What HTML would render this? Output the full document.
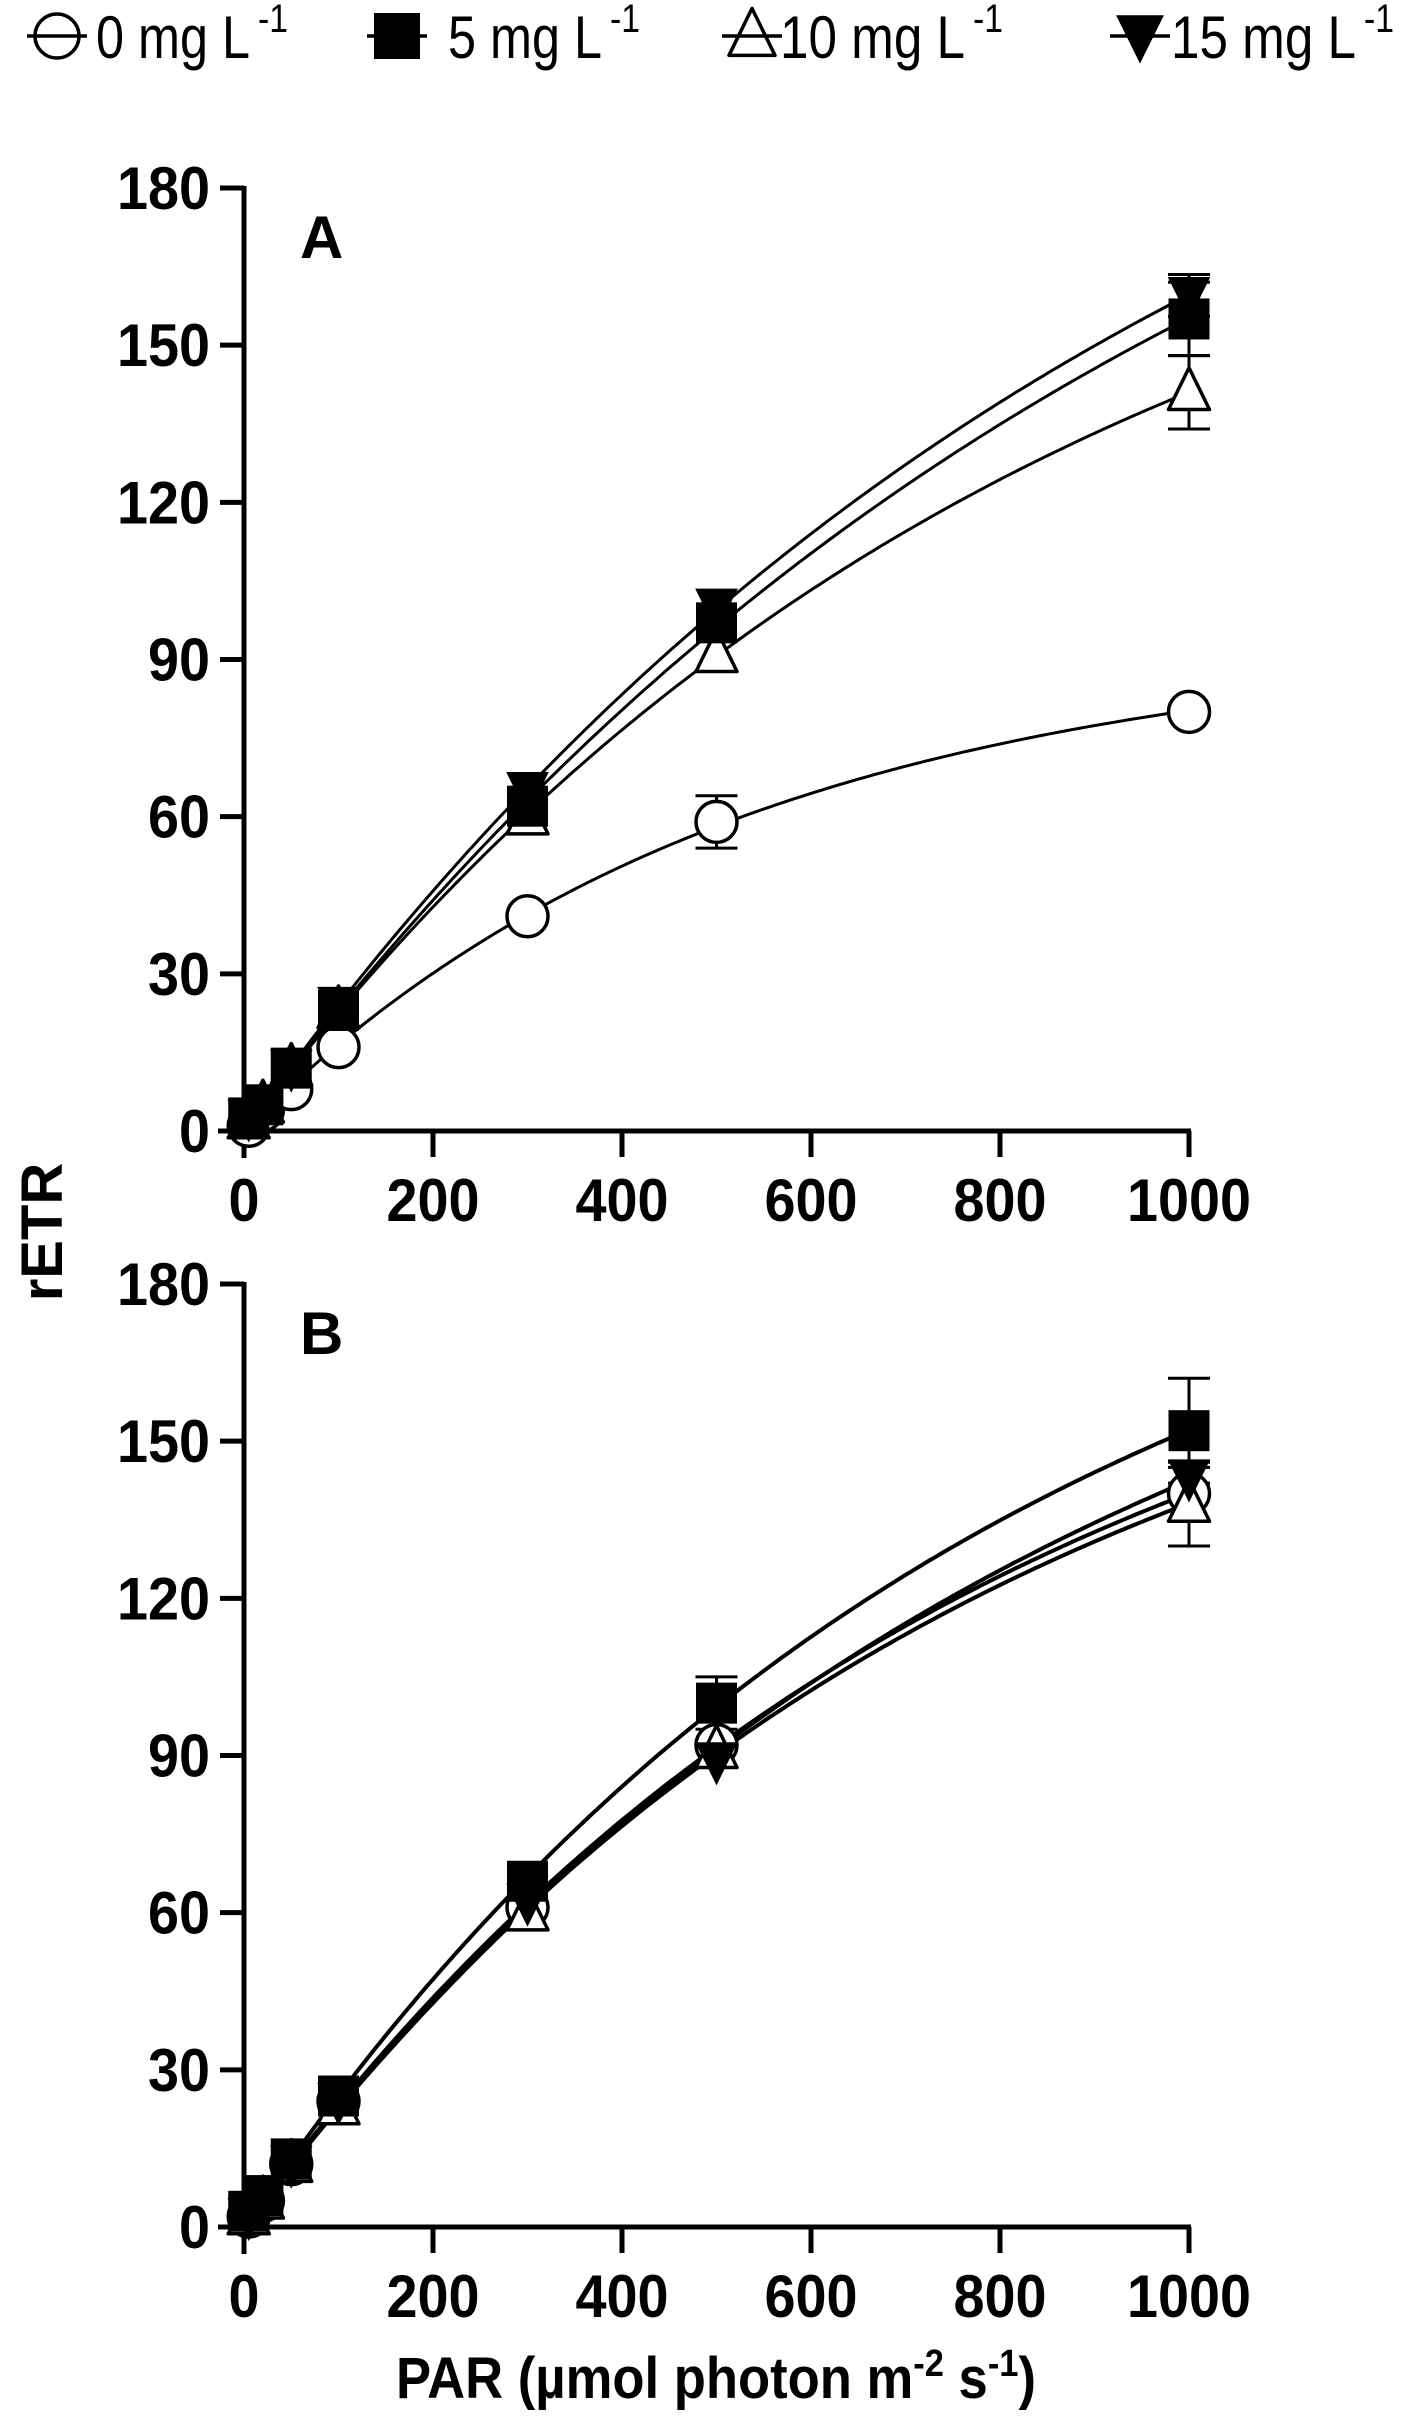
<!DOCTYPE html>
<html><head><meta charset="utf-8"><style>
html,body{margin:0;padding:0;background:#fff;}
svg{display:block;}
text{font-family:"Liberation Sans",sans-serif;}
</style></head><body>
<svg id="chart" width="1421" height="2425" viewBox="0 0 1421 2425" xmlns="http://www.w3.org/2000/svg">
<g id="legend"></g>
<g id="panelA"></g>
<g id="panelB"></g>
<text x="0" y="0" transform="translate(62,1232) rotate(-90)" text-anchor="middle" font-size="58" font-weight="bold">rETR</text>
<text x="716" y="2398" text-anchor="middle" font-size="58" font-weight="bold" textLength="640" lengthAdjust="spacingAndGlyphs">PAR (µmol photon m<tspan dy="-22" font-size="38">-2</tspan><tspan dy="22"> s</tspan><tspan dy="-22" font-size="38">-1</tspan><tspan dy="22">)</tspan></text>
</svg>
<script>
const parX = [5, 20, 50, 100, 300, 500, 1000];
const seriesNames = ["0 mg L", "5 mg L", "10 mg L", "15 mg L"];
const xTicks = [0, 200, 400, 600, 800, 1000];
const yTicks = [0, 30, 60, 90, 120, 150, 180];
// Panel A
const a0 = [1, 4, 8, 16, 41, 59, 80];
const a5 = [2.5, 5, 12, 23, 62, 97, 155];
const a10 = [2, 5, 12, 23, 60, 91, 141];
const a15 = [2.5, 5, 12, 24, 65, 100, 159.5];
const aErr0 = [0, 0, 0, 0, 0, 5, 0];
const aErr5 = [0, 0, 0, 0, 0, 0, 7];
const aErr10 = [0, 0, 0, 0, 0, 0, 7];
const aErr15 = [0, 0, 0, 0, 0, 0, 4];
// Panel B
const b0 = [2, 5, 12, 24, 61, 92, 140];
const b5 = [3, 6, 13, 25, 66, 100, 152];
const b10 = [2, 5, 12, 23, 60, 91, 138];
const b15 = [2, 5, 12, 24, 62, 89, 143];
const bErr0 = [0, 0, 0, 0, 0, 0, 5];
const bErr5 = [0, 0, 0, 0, 0, 5, 10];
const bErr10 = [0, 0, 0, 0, 0, 0, 8];
const bErr15 = [0, 0, 0, 0, 0, 0, 3];

const NS = "http://www.w3.org/2000/svg";
function mk(tag, attrs, parent){const e=document.createElementNS(NS,tag);for(const k in attrs)e.setAttribute(k,attrs[k]);if(parent)parent.appendChild(e);return e;}
const X0=244, X1=1189;
function xs(v){return X0+(v/1000)*(X1-X0);}
const shapes=["circle","square","triangle","down-triangle"];

function marker(g, type, cx, cy, s){
  let e;
  if(type==="circle") e=mk("circle",{cx:cx,cy:cy,r:s*0.5,fill:"#fff",stroke:"#000","stroke-width":3.5},g);
  else if(type==="square") e=mk("rect",{x:cx-s/2,y:cy-s/2,width:s,height:s,fill:"#000"},g);
  else if(type==="triangle") e=mk("polygon",{points:`${cx},${cy-s*0.6} ${cx-s*0.5},${cy+s*0.42} ${cx+s*0.5},${cy+s*0.42}`,fill:"#fff",stroke:"#000","stroke-width":3.5,"stroke-linejoin":"round"},g);
  else e=mk("polygon",{points:`${cx},${cy+s*0.6} ${cx-s*0.52},${cy-s*0.45} ${cx+s*0.52},${cy-s*0.45}`,fill:"#000"},g);
  return e;
}
function fit(vals){
  let best=[100,0.25],bestE=Infinity;
  let Pl=30,Ph=600,al=0.05,ah=0.6;
  for(let it=0;it<4;it++){
    for(let i=0;i<=40;i++){for(let j=0;j<=40;j++){
      const P=Pl+(Ph-Pl)*i/40,a=al+(ah-al)*j/40;
      let e=0;parX.forEach((x,k)=>{const d=P*(1-Math.exp(-a*x/P))-vals[k];e+=d*d;});
      if(e<bestE){bestE=e;best=[P,a];}
    }}
    const dP=(Ph-Pl)/20,da=(ah-al)/20;
    Pl=Math.max(1,best[0]-dP);Ph=best[0]+dP;al=Math.max(0.001,best[1]-da);ah=best[1]+da;
  }
  return best;
}
function panel(gid, Y0, Y180, label, series, errs, lw){
  const g=document.getElementById(gid);
  const ys=v=>Y0-(v/180)*(Y0-Y180);
  mk("line",{x1:X0,y1:Y180-2,x2:X0,y2:Y0+27,stroke:"#000","stroke-width":5},g);
  mk("line",{x1:X0-26,y1:Y0,x2:X1+2,y2:Y0,stroke:"#000","stroke-width":5},g);
  yTicks.forEach(t=>{
    const y=ys(t);
    const tk=mk("line",{x1:X0-24,y1:y,x2:X0,y2:y,stroke:"#000","stroke-width":5},g);
    
    
    const s=String(t);
    const tx=mk("text",{x:X0-34,y:y+21,"text-anchor":"end","font-size":60,"font-weight":"bold",textLength:s.length*31,lengthAdjust:"spacingAndGlyphs"},g);
    tx.textContent=s;
    
    
  });
  xTicks.forEach(t=>{
    const x=xs(t);
    const tk=mk("line",{x1:x,y1:Y0,x2:x,y2:Y0+26,stroke:"#000","stroke-width":5},g);
    
    
    const s=String(t);
    const tx=mk("text",{x:x,y:Y0+90,"text-anchor":"middle","font-size":60,"font-weight":"bold",textLength:s.length*31,lengthAdjust:"spacingAndGlyphs"},g);
    tx.textContent=s;
    
    
  });
  const lt=mk("text",{x:300,y:Y180+70,"font-size":60,"font-weight":"bold"},g);
  lt.textContent=label;
  
  
  series.forEach((vals,si)=>{
    const [P,a]=fit(vals);
    let d="";
    for(let k=0;k<=200;k++){
      const x=parX[0]+(parX[parX.length-1]-parX[0])*k/200;
      const y=P*(1-Math.exp(-a*x/P));
      d+=(k?"L":"M")+xs(x).toFixed(1)+","+ys(y).toFixed(1);
    }
    const p=mk("path",{d:d,fill:"none",stroke:"#000","stroke-width":lw},g);
    
    
  });
  series.forEach((vals,si)=>{
    parX.forEach((x,i)=>{
      const e=errs[si][i];
      if(e>0){
        const cx=xs(x);
        const top=ys(vals[i]+e),bot=ys(vals[i]-e);
        const eb=mk("g",{},g);
        
        
        mk("line",{x1:cx,y1:top,x2:cx,y2:bot,stroke:"#000","stroke-width":3},eb);
        mk("line",{x1:cx-21,y1:top,x2:cx+21,y2:top,stroke:"#000","stroke-width":3},eb);
        mk("line",{x1:cx-21,y1:bot,x2:cx+21,y2:bot,stroke:"#000","stroke-width":3},eb);
      }
    });
  });
  const order=[0,2,3,1];
  order.forEach(si=>{
    parX.forEach((x,i)=>{
      const m=marker(g,shapes[si],xs(x),ys(series[si][i]),41);
      
      
    });
  });
}
panel("panelA",1131,188,"A",[a0,a5,a10,a15],[aErr0,aErr5,aErr10,aErr15],3);
panel("panelB",2227,1284,"B",[b0,b5,b10,b15],[bErr0,bErr5,bErr10,bErr15],4);

const lg=document.getElementById("legend");
const legX=[57,397,752,1140];
const legTextX=[96,448,780,1171];
const legW=[154,154,185,185];
seriesNames.forEach((n,i)=>{
  const ent=mk("g",{},lg);
  
  
  marker(ent,shapes[i],legX[i],36,i===0?44:46);
  mk("line",{x1:legX[i]-30,y1:36,x2:legX[i]+30,y2:36,stroke:"#000","stroke-width":3.5},ent);
  const t=mk("text",{x:legTextX[i],y:58,"font-size":60,textLength:legW[i],lengthAdjust:"spacingAndGlyphs"},ent);
  t.textContent=n;
  const s=mk("text",{x:legTextX[i]+legW[i]+8,y:32,"font-size":40,textLength:30,lengthAdjust:"spacingAndGlyphs"},ent);
  s.textContent="-1";
});
</script>
</body></html>
